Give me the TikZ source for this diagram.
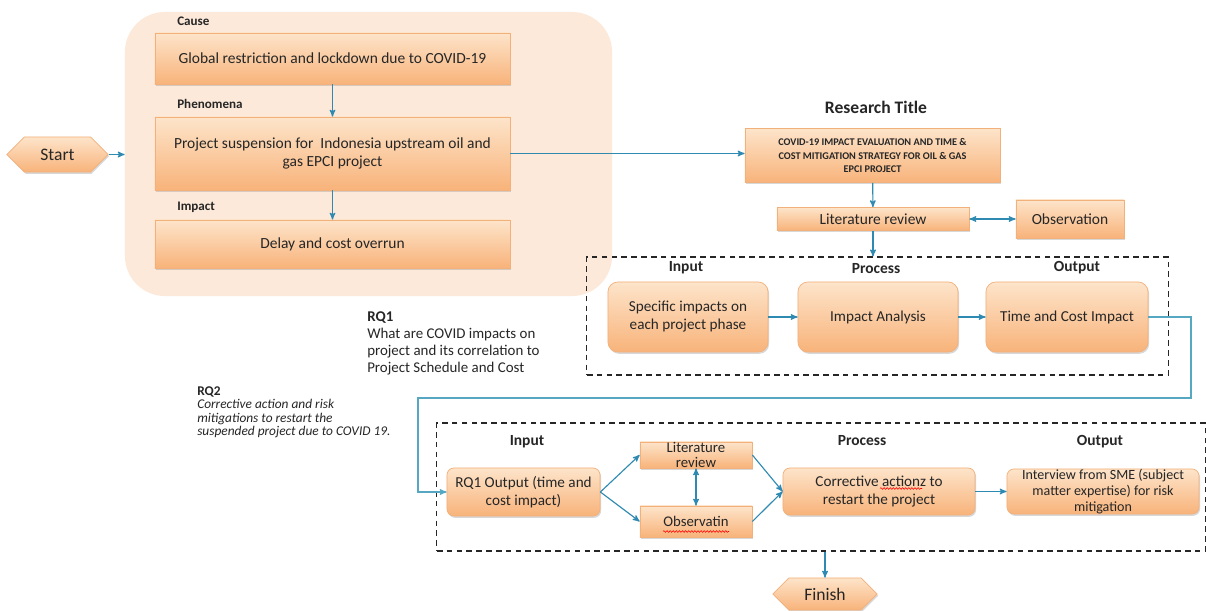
\documentclass[tikz,border=0pt]{standalone}
\usepackage{fontspec}
\setmainfont{Carlito}
\usepackage{tikz}
\usetikzlibrary{arrows, arrows.meta, calc, positioning, shapes, shapes.symbols, shadows}
\usetikzlibrary{decorations.pathmorphing}

\definecolor{boxtop}{HTML}{FDE4CA}
\definecolor{boxbot}{HTML}{F8B37A}
\definecolor{boxline}{HTML}{F2B07A}
\definecolor{peach}{HTML}{FDE9DA}
\definecolor{flowblue}{HTML}{2F8AB2}
\definecolor{wireblue}{HTML}{56A8C2}
\definecolor{txt}{HTML}{262626}

\tikzset{
	flowbox/.style={draw=boxline, line width=0.5pt, top color=boxtop, bottom color=boxbot,
		drop shadow={shadow xshift=0.8pt, shadow yshift=-1.3pt, opacity=0.3},
		text=txt, align=center, inner sep=2pt, font=\fontsize{11}{13}\selectfont},
	roundbox/.style={flowbox, rounded corners=7pt, font=\fontsize{10.8}{12.8}\selectfont},
	termbox/.style={flowbox, signal, signal to=west and east, font=\fontsize{12.5}{14}\selectfont},
	steplabel/.style={text=txt, font=\bfseries\fontsize{9.3}{11}\selectfont, anchor=west, inner sep=0pt},
	headlabel/.style={text=txt, font=\bfseries\fontsize{11}{13}\selectfont, inner sep=0pt},
	flow/.style={->, >=stealth', draw=flowblue, line width=0.8pt},
	frame/.style={draw=black!85, dashed, dash pattern=on 4pt off 3pt, line width=0.8pt},
	spellmark/.style={draw=red, line width=0.4pt, decorate, decoration={snake, segment length=2.2pt, amplitude=0.6pt}}
}

\begin{document}
\begin{tikzpicture}[x=0.025cm, y=-0.025cm]
	\useasboundingbox (0,0) rectangle (1206,611);
	\fill[white] (0,0) rectangle (1206,611);

	% problem block
	\node(bg) [fill=peach, rounded corners=1cm, minimum width=12.175cm, minimum height=7.1cm] at (368.5,154) {};
	\node(cause) [steplabel] at (177,21) {Cause};
	\node(global) [flowbox, minimum width=8.875cm, minimum height=1.275cm] at (332.5,58.5) {Global restriction and lockdown due to COVID-19};
	\node(phen) [steplabel] at (177,104) {Phenomena};
	\node(susp) [flowbox, minimum width=8.875cm, minimum height=1.825cm] at (332.5,153.5) {Project suspension for\ \ Indonesia upstream oil and\\gas EPCI project};
	\node(imp) [steplabel] at (177,207) {Impact};
	\node(delay) [flowbox, minimum width=8.875cm, minimum height=1.2cm] at (332.5,244) {Delay and cost overrun};

	\node(start) [termbox, minimum width=2.525cm, minimum height=0.875cm] at (57.5,154.5) {Start};

	\draw[flow] (global) -- (susp);
	\draw[flow] (susp) -- (delay);
	\draw[flow] (start.east) -- (bg.west |- start.east);

	% research title
	\node(restitle) [headlabel, font=\bfseries\fontsize{12.5}{14}\selectfont] at (876,107) {Research Title};
	\node(title) [flowbox, minimum width=6.375cm, minimum height=1.35cm, font=\bfseries\fontsize{7.3}{9.8}\selectfont] at (872.5,155.5) {COVID-19 IMPACT EVALUATION AND TIME \&\\COST MITIGATION STRATEGY FOR OIL \& GAS\\EPCI PROJECT};
	\node(litrev) [flowbox, minimum width=4.8cm, minimum height=0.575cm, inner sep=0pt] at (873,219) {Literature review};
	\node(obs) [flowbox, minimum width=2.7cm, minimum height=0.95cm] at (1070,219) {Observation};

	\draw[flow] (susp.east) -- (susp.east -| title.west);
	\draw[flow] (title) -- (litrev);
	\draw[flow, <->] (litrev) -- (obs);

	% RQ1
	\node(rq1frame) [frame, minimum width=14.525cm, minimum height=2.95cm] at (877.5,316) {};
	\node(in1) [headlabel] at (686,268) {Input};
	\node(proc1) [headlabel] at (876,269) {Process};
	\node(out1) [headlabel] at (1077,268) {Output};
	\node(spec) [roundbox, minimum width=4cm, minimum height=1.75cm] at (688,317) {Specific impacts on\\each project phase};
	\node(impan) [roundbox, minimum width=4cm, minimum height=1.75cm] at (878,317) {Impact Analysis};
	\node(tci) [roundbox, minimum width=4.05cm, minimum height=1.75cm] at (1067,317) {Time and Cost Impact};

	\draw[flow] (litrev.south) -- (litrev.south |- rq1frame.north);
	\draw[flow] (spec) -- (impan);
	\draw[flow] (impan) -- (tci);

	\node(rq1) [anchor=north west, align=left, inner sep=0pt, text=txt, font=\fontsize{10.6}{12.3}\selectfont] at (367,311) {\textbf{RQ1}\\What are COVID impacts on\\project and its correlation to\\Project Schedule and Cost};
	\node(rq2) [anchor=north west, align=left, inner sep=0pt, text=txt, font=\fontsize{9.5}{9.6}\selectfont] at (197,386) {\textbf{RQ2}\\\textit{Corrective action and risk}\\\textit{mitigations to restart the}\\\textit{suspended project due to COVID 19.}};

	% RQ2
	\node(rq2frame) [frame, minimum width=19.2cm, minimum height=3.2cm] at (821,487) {};
	\node(in2) [headlabel] at (527,442) {Input};
	\node(proc2) [headlabel] at (862,441) {Process};
	\node(out2) [headlabel] at (1100,442) {Output};
	\node(rq1out) [roundbox, minimum width=3.825cm, minimum height=1.2cm, rounded corners=5pt] at (523.5,492) {RQ1 Output (time and\\cost impact)};
	\node(lit2) [flowbox, minimum width=2.8cm, minimum height=0.65cm, inner sep=0pt, font=\fontsize{10.5}{11}\selectfont] at (696,455) {Literature\\review};
	\node(obs2) [flowbox, minimum width=2.8cm, minimum height=0.775cm, font=\fontsize{10.5}{12}\selectfont] at (696,521.5) {Observatin};
	\node(corr) [roundbox, minimum width=4.8cm, minimum height=1.175cm, rounded corners=5pt, inner sep=0pt] at (879,491.5) {Corrective actionz to\\restart the project};
	\node(intv) [roundbox, minimum width=4.8cm, minimum height=1.1cm, rounded corners=5pt, inner sep=0pt, font=\fontsize{10}{11.5}\selectfont] at (1103,491.5) {Interview from SME (subject\\matter expertise) for risk\\mitigation};
	\node(finish) [termbox, minimum width=2.6cm, minimum height=0.8cm] at (825,594) {Finish};

	% spell-check marks
	\draw[spellmark] ($(obs2.center)+(-33,10)$) -- ++(66,0);
	\draw[spellmark] ($(corr.center)+(1,-3)$) -- ++(42,0);

	\draw[flow] (rq1out.east) -- (lit2.west);
	\draw[flow] (rq1out.east) -- (obs2.west);
	\draw[flow] (lit2.east) -- (corr.west);
	\draw[flow] (obs2.east) -- (corr.west);
	\draw[flow, <->] (lit2) -- (obs2);
	\draw[flow] (corr) -- (intv);
	\draw[flow] (finish.north |- rq2frame.south) -- (finish.north);

	% link RQ1 -> RQ2
	\coordinate(wireA) at (1191,398);
	\coordinate(wireB) at (418,398);
	\draw[flow, draw=wireblue] (tci.east) -| (wireA) -- (wireB) |- (rq1out.west);
\end{tikzpicture}
\end{document}
